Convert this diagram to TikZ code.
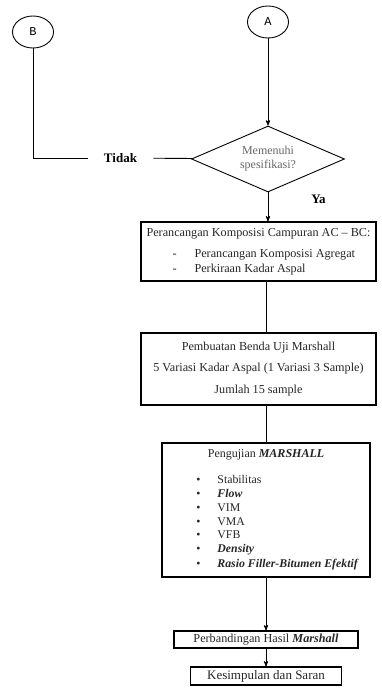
\documentclass[tikz,border=0pt]{standalone}
\usepackage{fontspec}
\setmainfont{Liberation Serif}
\setmonofont{Liberation Mono}
\usetikzlibrary{arrows,shapes.geometric}

\begin{document}
\begin{tikzpicture}[x=1pt, y=-1pt, ->, >=stealth', line width=0.9pt]
  \tikzstyle{every node}=[font=\fontsize{12.2}{14}\selectfont, text=black!85]
  \tikzstyle{conn}=[draw, ellipse, minimum width=41pt, minimum height=32pt, inner sep=0pt, font=\ttfamily\fontsize{12}{14}\selectfont, text=black]
  \tikzstyle{decision}=[draw, diamond, aspect=2.3, minimum width=153pt, minimum height=66pt, inner sep=0pt, align=center, text=black!60, font=\fontsize{12}{13}\selectfont]
  \tikzstyle{lbl}=[font=\bfseries\fontsize{13}{14}\selectfont, text=black, inner xsep=16pt]
  \tikzstyle{box}=[draw, rectangle, line width=1.1pt, inner sep=0pt, align=center]

  \useasboundingbox (0,0) rectangle (382,695);

  \node[conn] (B) at (33,32) {B};
  \node[conn] (A) at (268,22) {A};
  \node[decision] (D) at (268,159) {Memenuhi\\[1pt]spesifikasi?};
  \node[lbl] (tidak) at (120.5,158) {Tidak};
  \node[lbl, inner xsep=0pt] (ya) at (318.5,199) {Ya};

  \node[box, minimum width=235pt, minimum height=59pt, align=left] (p1) at (258.5,251.5)
    {Perancangan Komposisi Campuran AC -- BC:\\[7pt]
     \hspace*{26pt}\makebox[22pt][l]{-}Perancangan Komposisi Agregat\\[1pt]
     \hspace*{26pt}\makebox[22pt][l]{-}Perkiraan Kadar Aspal};
  \node[box, minimum width=235pt, minimum height=72pt] (p2) at (258.5,369)
    {Pembuatan Benda Uji Marshall\\[7.5pt]
     5 Variasi Kadar Aspal (1 Variasi 3 Sample)\\[7.5pt]
     Jumlah 15 sample};
  \node[box, minimum width=208pt, minimum height=134pt] (p3) at (266,510) {};
  \node[font=\fontsize{12}{14}\selectfont] (p3t) at (266,455) {Pengujian \textbf{\textit{MARSHALL}}};
  \node[anchor=west, inner sep=0pt, align=left, font=\fontsize{11.8}{13.7}\selectfont] (p3l) at (196,523)
    {\makebox[21pt][l]{\textbullet}Stabilitas\\
     \makebox[21pt][l]{\textbullet}\textbf{\textit{Flow}}\\
     \makebox[21pt][l]{\textbullet}VIM\\
     \makebox[21pt][l]{\textbullet}VMA\\
     \makebox[21pt][l]{\textbullet}VFB\\
     \makebox[21pt][l]{\textbullet}\textbf{\textit{Density}}\\[1.5pt]
     \makebox[21pt][l]{\textbullet}\textbf{\textit{Rasio Filler-Bitumen Efektif}}};
  \node[box, minimum width=184pt, minimum height=17pt] (p4) at (266,639.5) {Perbandingan Hasil \textbf{\textit{Marshall}}};
  \node[box, minimum width=151pt, minimum height=18pt, font=\fontsize{13}{14}\selectfont] (p5) at (266,676) {Kesimpulan dan Saran};

  \path (A) edge (D)
        (D) edge (D.south |- p1.north);
  \draw[-] (B) |- (tidak);
  \draw[-] (tidak) -- (D);
  \draw[-] (p3.north |- p1.south) -- (p3.north |- p2.north);
  \draw[-] (p3.north |- p2.south) -- (p3.north);
  \draw (p3) -- (p4);
  \draw (p4) -- (p5);
\end{tikzpicture}
\end{document}
